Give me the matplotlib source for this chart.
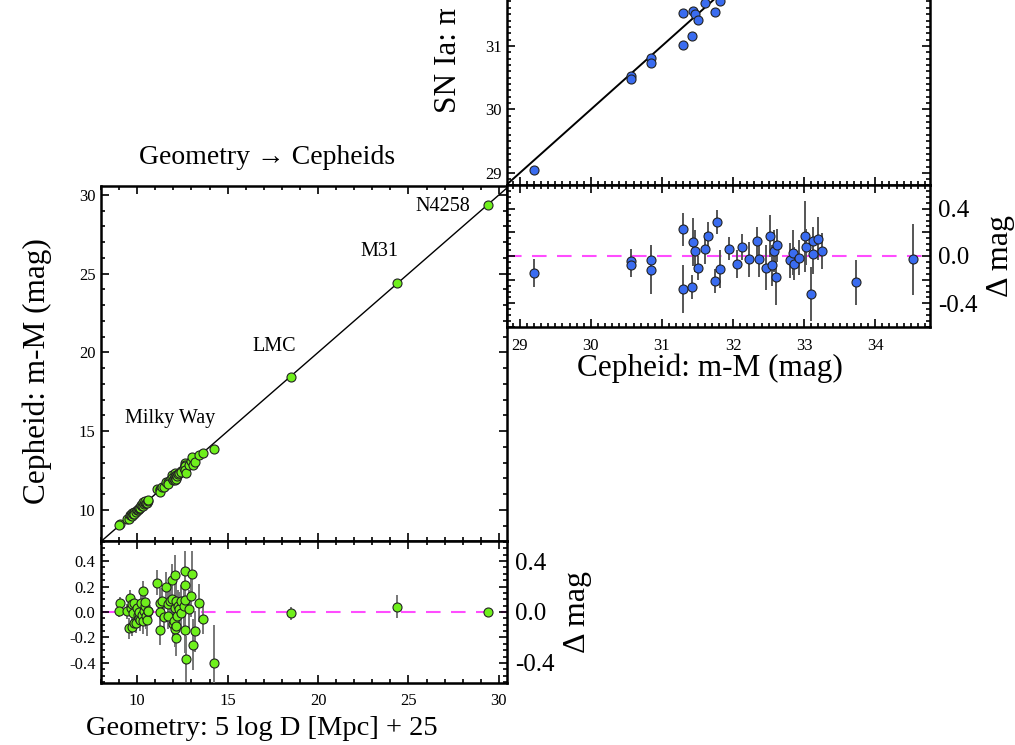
import numpy as np
import matplotlib.pyplot as plt
from matplotlib.ticker import MultipleLocator, FixedLocator
from matplotlib.patches import Rectangle

plt.rcParams['font.family'] = ['Liberation Serif', 'DejaVu Serif']
plt.rcParams['axes.unicode_minus'] = False

# Geometry -> Cepheids : geometric distance modulus, residual, error
geo_mu = np.array([9.04, 9.02, 9.45, 9.54, 9.59, 9.67, 9.72, 9.72, 9.76, 9.82,
                   9.85, 9.94, 9.99, 10.05, 10.08, 10.12, 10.18, 10.22, 10.25, 10.30,
                   10.33, 10.38, 10.41, 10.46, 10.50, 10.52, 10.59, 10.62,
                   11.07, 11.25, 11.29, 11.25, 11.40, 11.51, 11.58, 11.70, 11.80, 11.70,
                   11.95, 11.93, 11.98, 12.02, 12.07, 12.07, 12.10, 12.13, 12.13, 12.17,
                   12.20, 12.25, 12.30, 12.40, 12.45, 12.60, 12.67, 12.67, 12.67, 12.67,
                   12.70, 12.86, 13.00, 13.04, 13.09, 13.22, 13.40, 13.65, 14.27,
                   18.48, 24.38, 29.38])
geo_res = np.array([0.07, 0.01, 0.005, -0.128, 0.11, 0.03, 0.063, -0.12, -0.008, 0.07,
                    -0.09, -0.087, 0.03, -0.02, -0.047, 0.0, -0.06, 0.07, -0.02, -0.073,
                    0.163, 0.01, 0.045, 0.08, -0.034, -0.066, 0.005, 0.01,
                    0.23, 0.068, 0.0, -0.14, 0.09, -0.04, 0.197, 0.06, 0.084, -0.034,
                    0.25, 0.1, -0.097, -0.073, 0.294, -0.136, 0.03, 0.084, -0.113, -0.205,
                    -0.034, 0.05, 0.02, 0.084, -0.01, 0.045, 0.32, 0.215, 0.098, -0.139,
                    -0.367, 0.02, 0.124, 0.30, -0.257, -0.152, 0.071, -0.052, -0.404,
                    -0.01, 0.04, 0.0])
geo_err = np.array([0.05, 0.05, 0.06, 0.08, 0.06, 0.07, 0.06, 0.07, 0.06, 0.05,
                    0.07, 0.08, 0.06, 0.07, 0.08, 0.06, 0.09, 0.08, 0.07, 0.10,
                    0.08, 0.09, 0.08, 0.07, 0.10, 0.12, 0.08, 0.06,
                    0.10, 0.12, 0.10, 0.12, 0.10, 0.11, 0.12, 0.10, 0.12, 0.10,
                    0.13, 0.12, 0.13, 0.12, 0.15, 0.14, 0.12, 0.15, 0.12, 0.14,
                    0.15, 0.12, 0.14, 0.13, 0.12, 0.16, 0.16, 0.15, 0.17, 0.18,
                    0.18, 0.15, 0.16, 0.18, 0.20, 0.16, 0.15, 0.12, 0.30,
                    0.05, 0.09, 0.03])

anchor_names = ['Milky Way', 'LMC', 'M31', 'N4258']
anchor_label_xy = [(11.8, 15.8), (17.6, 20.4), (23.4, 26.4), (26.9, 29.25)]

# Cepheids -> SN Ia : Cepheid distance modulus, residual, error
sn_mu = np.array([29.20, 30.56, 30.56, 30.85, 30.85, 31.30, 31.30, 31.42, 31.43, 31.46,
                  31.51, 31.61, 31.65, 31.74, 31.78, 31.82, 31.94, 32.06, 32.13, 32.23,
                  32.34, 32.37, 32.46, 32.52, 32.55, 32.57, 32.60, 32.62, 32.80, 32.84,
                  32.85, 32.93, 33.01, 33.02, 33.10, 33.12, 33.12, 33.20, 33.25, 33.73,
                  34.53])
sn_res = np.array([-0.146, -0.04, -0.08, -0.035, -0.12, 0.225, -0.28, -0.26, 0.118, 0.042,
                   -0.10, 0.062, 0.168, -0.21, 0.287, -0.112, 0.062, -0.07, 0.073, -0.028,
                   0.124, -0.028, -0.10, 0.168, -0.08, 0.042, -0.177, 0.09, -0.036, 0.028,
                   -0.067, -0.014, 0.168, 0.076, -0.32, 0.014, 0.126, 0.146, 0.042, -0.22,
                   -0.028])
sn_err = np.array([0.12, 0.10, 0.10, 0.13, 0.20, 0.14, 0.20, 0.10, 0.20, 0.18,
                   0.10, 0.13, 0.12, 0.10, 0.10, 0.16, 0.10, 0.12, 0.11, 0.15,
                   0.12, 0.15, 0.19, 0.18, 0.17, 0.18, 0.24, 0.14, 0.15, 0.19,
                   0.14, 0.15, 0.30, 0.15, 0.23, 0.17, 0.12, 0.18, 0.15, 0.19,
                   0.30])

green = '#6ff01c'
blue = '#3a6cf0'
magenta = '#ff4dff'

W, H = 1015, 745
def box(x0, y0, x1, y1):
    return [x0 / W, 1 - y1 / H, (x1 - x0) / W, (y1 - y0) / H]

def style(ax, size=12):
    for s in ax.spines.values():
        s.set_linewidth(1.8)
    ax.tick_params(which='both', direction='in', top=True, right=True,
                   labelsize=size, width=1.2, pad=4)
    ax.tick_params(which='major', length=6)
    ax.tick_params(which='minor', length=3)

def right_labels(ax, lim, size=18):
    tw = ax.twinx()
    tw.set_ylim(lim)
    tw.set_yticks([-0.4, -0.2, 0.0, 0.2, 0.4], labels=['-0.4', '', '0.0', '', '0.4'])
    tw.yaxis.set_minor_locator(MultipleLocator(0.05))
    tw.tick_params(which='both', direction='in', labelsize=size, width=1.2, pad=6)
    tw.tick_params(which='major', length=6)
    tw.tick_params(which='minor', length=3)
    tw.set_ylabel('Δ mag', fontsize=23, labelpad=6)
    return tw

fig = plt.figure(figsize=(10.15, 7.45), dpi=100)

ax_geo = fig.add_axes(box(101, 186, 507, 541))
ax_geo_res = fig.add_axes(box(101, 541, 507, 683))
ax_sn = fig.add_axes(box(507, -224, 930, 185))
ax_sn_res = fig.add_axes(box(507, 185, 930, 327))

mk = dict(marker='o', ms=6.5, mec='#222222', mew=0.8, ls='none')

# ---- Geometry -> Cepheids
ax_geo.plot([8, 31], [8, 31], color='k', lw=1.0, zorder=1)
ax_geo.plot(geo_mu, geo_mu + geo_res, mfc=green, zorder=3, **mk)
for name, (tx, ty) in zip(anchor_names, anchor_label_xy):
    ax_geo.text(tx, ty, name, ha='center', va='center', fontsize=14.5)
ax_geo.set_xlim(8, 30.45)
ax_geo.set_ylim(8.03, 30.57)
style(ax_geo)
ax_geo.xaxis.set_major_locator(MultipleLocator(5))
ax_geo.xaxis.set_minor_locator(MultipleLocator(1))
ax_geo.yaxis.set_major_locator(MultipleLocator(5))
ax_geo.yaxis.set_minor_locator(MultipleLocator(1))
ax_geo.tick_params(labelbottom=False)
ax_geo.set_ylabel('Cepheid: m-M (mag)', fontsize=22.5)
ax_geo.yaxis.set_label_coords(-0.12, 0.48)
ax_geo.text(0.41, 1.08, 'Geometry → Cepheids', transform=ax_geo.transAxes,
            ha='center', va='center', fontsize=20)

ax_geo_res.axhline(0, color=magenta, lw=1.5, dashes=(7, 5), zorder=1)
ax_geo_res.errorbar(geo_mu, geo_res, yerr=geo_err, ecolor='#777777', elinewidth=1.4,
                    capsize=0, mfc=green, zorder=3, **mk)
ax_geo_res.set_xlim(8, 30.45)
ax_geo_res.set_ylim(-0.557, 0.557)
style(ax_geo_res)
ax_geo_res.xaxis.set_major_locator(MultipleLocator(5))
ax_geo_res.xaxis.set_minor_locator(MultipleLocator(1))
ax_geo_res.yaxis.set_major_locator(MultipleLocator(0.2))
ax_geo_res.yaxis.set_minor_locator(MultipleLocator(0.05))
ax_geo_res.tick_params(axis='x', pad=7)
ax_geo_res.set_xlabel('Geometry: 5 log D [Mpc] + 25', fontsize=20.5)
ax_geo_res.xaxis.set_label_coords(0.397, -0.23)
right_labels(ax_geo_res, (-0.557, 0.557))

# ---- Cepheids -> SN Ia
ax_sn.plot([28, 36], [28, 36], color='k', lw=1.4, zorder=1)
ax_sn.plot(sn_mu, sn_mu + sn_res, mfc=blue, zorder=3, **mk)
ax_sn.set_xlim(28.82, 34.77)
ax_sn.set_ylim(28.81, 35.25)
style(ax_sn)
ax_sn.xaxis.set_major_locator(MultipleLocator(1))
ax_sn.xaxis.set_minor_locator(MultipleLocator(0.1))
ax_sn.yaxis.set_major_locator(FixedLocator([29, 30, 31]))
ax_sn.yaxis.set_minor_locator(MultipleLocator(0.1))
ax_sn.tick_params(labelbottom=False)
ax_sn.set_ylabel('SN Ia: m-M (mag)', fontsize=22.5)
ax_sn.yaxis.set_label_coords(-0.105, 0.462)

ax_sn_res.axhline(0, color=magenta, lw=1.5, dashes=(7, 5), zorder=1)
ax_sn_res.errorbar(sn_mu, sn_res, yerr=sn_err, ecolor='#555555', elinewidth=1.4,
                   capsize=0, mfc=blue, zorder=3, **mk)
ax_sn_res.set_xlim(28.82, 34.77)
ax_sn_res.set_ylim(-0.6, 0.6)
style(ax_sn_res)
ax_sn_res.xaxis.set_major_locator(MultipleLocator(1))
ax_sn_res.xaxis.set_minor_locator(MultipleLocator(0.1))
ax_sn_res.yaxis.set_major_locator(MultipleLocator(0.2))
ax_sn_res.yaxis.set_minor_locator(MultipleLocator(0.05))
ax_sn_res.tick_params(labelleft=False)
ax_sn_res.tick_params(axis='x', pad=8)
ax_sn_res.set_xlabel('Cepheid: m-M (mag)', fontsize=22.5)
ax_sn_res.xaxis.set_label_coords(0.48, -0.19)
right_labels(ax_sn_res, (-0.6, 0.6))

# the source image is cut at the top-left
fig.add_artist(Rectangle((0, 1 - 9 / H), 505 / W, 9 / H, transform=fig.transFigure,
                         fc='white', ec='none', zorder=100))

fig.savefig('out.png', dpi=100)
